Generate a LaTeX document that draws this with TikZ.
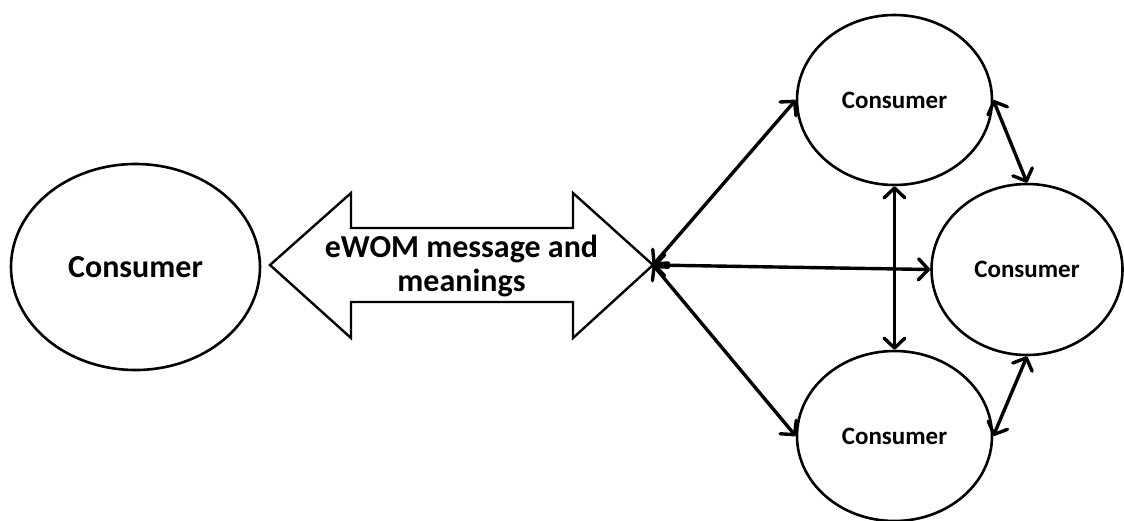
\documentclass[tikz,border=0pt]{standalone}
\usepackage{fontspec}
\setmainfont{Carlito}
\usetikzlibrary{shapes.geometric,arrows.meta}
\begin{document}
\begin{tikzpicture}[x=1pt,y=-1pt,
  consumer/.style={draw,ellipse,line width=2.6pt,inner sep=0pt,
    font=\bfseries\fontsize{25}{28}\selectfont},
  barb/.tip={Straight Barb[length=10pt,width=21pt,line cap=round,line join=round]},
  link/.style={line width=3.4pt,barb-barb},
  bigarrow/.style={draw,line width=2.4pt,line join=miter,fill=white},
  msgtext/.style={font=\bfseries\fontsize{32}{34}\selectfont,align=center,inner sep=0pt}
  ]
\useasboundingbox[fill=white] (0,0) rectangle (1124,520);

% left consumer
\node[consumer,minimum width=249pt,minimum height=206pt,
      font=\bfseries\fontsize{32}{36}\selectfont] (cleft) at (135.5,267) {Consumer};

% double block arrow carrying the message
\coordinate (tail) at (270,265);
\coordinate (hub) at (653,265);
\draw[bigarrow] (tail) -- (351,193) -- (351,228) -- (573,228) -- (573,193)
  -- (hub) -- (573,338) -- (573,302) -- (351,302) -- (351,338) -- cycle;
\node[msgtext] (msg) at (461.5,266) {eWOM message and\\meanings};

% consumer network
\node[consumer,minimum width=195pt,minimum height=170pt] (ctop) at (894.5,100) {Consumer};
\node[consumer,minimum width=191pt,minimum height=171pt] (cmid) at (1027,269.5) {Consumer};
\node[consumer,minimum width=195pt,minimum height=170pt] (cbot) at (894.5,436) {Consumer};

\draw[link] (hub) -- (ctop.west);
\draw[link] (hub) -- (cmid.west);
\draw[link] (hub) -- (cbot.west);
\draw[link] (ctop.south) -- (cbot.north);
\draw[link] (ctop.east) -- (cmid.north);
\draw[link] (cmid.south) -- (cbot.east);
\end{tikzpicture}
\end{document}
